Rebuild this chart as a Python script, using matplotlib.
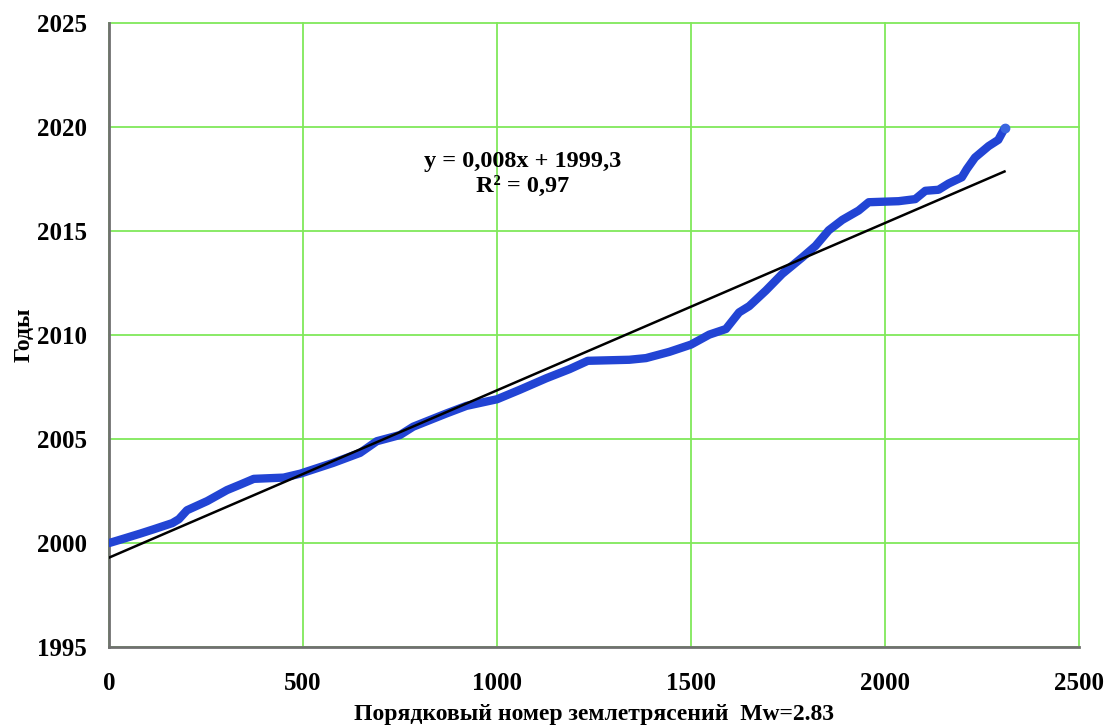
import numpy as np
import matplotlib
matplotlib.use("Agg")
import matplotlib.pyplot as plt

# порядковый номер события и год
nomer = [0, 39, 81, 116, 163, 180, 201, 253, 304, 339, 373, 450, 493, 578, 647,
         690, 750, 784, 870, 921, 1000, 1058, 1127, 1187, 1234, 1341, 1384, 1444,
         1500, 1547, 1590, 1624, 1650, 1693, 1735, 1787, 1821, 1855, 1890, 1932,
         1958, 2035, 2078, 2104, 2138, 2164, 2198, 2211, 2232, 2267, 2292, 2308]
gody = [2000.0, 2000.22, 2000.46, 2000.67, 2000.96, 2001.15, 2001.58, 2002.02,
        2002.55, 2002.82, 2003.09, 2003.15, 2003.34, 2003.86, 2004.34, 2004.9,
        2005.2, 2005.6, 2006.24, 2006.6, 2006.92, 2007.37, 2007.93, 2008.37,
        2008.77, 2008.82, 2008.9, 2009.2, 2009.55, 2010.03, 2010.3, 2011.1,
        2011.4, 2012.15, 2012.95, 2013.75, 2014.3, 2015.05, 2015.55, 2016.0,
        2016.4, 2016.45, 2016.55, 2016.95, 2017.0, 2017.3, 2017.6, 2018.0,
        2018.55, 2019.1, 2019.4, 2019.95]

# линейный тренд
naklon = 0.00805
svobodny = 1999.3

xticks = [0, 500, 1000, 1500, 2000, 2500]
yticks = [1995, 2000, 2005, 2010, 2015, 2020, 2025]

plt.rcParams['font.family'] = ['Liberation Serif', 'DejaVu Serif']
plt.rcParams['font.weight'] = 'bold'

fig = plt.figure(figsize=(11.07, 7.25), dpi=100)
ax = fig.add_axes([0.0985, 0.1076, 0.8762, 0.86])

ax.plot(nomer, gody, color='#2244d4', lw=6, solid_capstyle='round',
        solid_joinstyle='round', zorder=3)
ax.plot(nomer[-1], gody[-1], 'o', color='#3a66e0', ms=6, zorder=4)

xt = np.array([0, nomer[-1]])
ax.plot(xt, naklon * xt + svobodny, color='black', lw=1.8, zorder=4)

ax.text(1067, 2018.36, "y = 0,008x + 1999,3", ha='center', va='center',
        fontsize=17.5, fontweight='bold')
ax.text(1067, 2017.15, "R² = 0,97", ha='center', va='center',
        fontsize=17.5, fontweight='bold')

ax.set_xlim(0, 2500)
ax.set_ylim(1995, 2025)
ax.set_xticks(xticks)
ax.set_yticks(yticks)
ax.tick_params(axis='both', length=0, labelsize=18)
ax.tick_params(axis='y', pad=16)
ax.tick_params(axis='x', pad=18)
for lab in ax.get_xticklabels() + ax.get_yticklabels():
    lab.set_fontweight('bold')

ax.grid(True, color='#80e85a', lw=1.3)
for gl in ax.get_xgridlines() + ax.get_ygridlines():
    gl.set_clip_on(False)
ax.set_axisbelow(True)

ax.spines['top'].set_visible(False)
ax.spines['right'].set_visible(False)
ax.spines['left'].set_color('#707070')
ax.spines['bottom'].set_color('#707070')
ax.spines['left'].set_linewidth(2)
ax.spines['bottom'].set_linewidth(2)

ax.set_xlabel("Порядковый номер землетрясений  Mw=2.83", fontsize=17,
              fontweight='bold')
ax.set_ylabel("Годы", fontsize=17, fontweight='bold')
ax.xaxis.set_label_coords(0.5, -0.109)
ax.yaxis.set_label_coords(-0.0876, 0.5)
ax.xaxis.label.set_va('center')
ax.yaxis.label.set_va('center')

fig.savefig("out.png", dpi=100)
